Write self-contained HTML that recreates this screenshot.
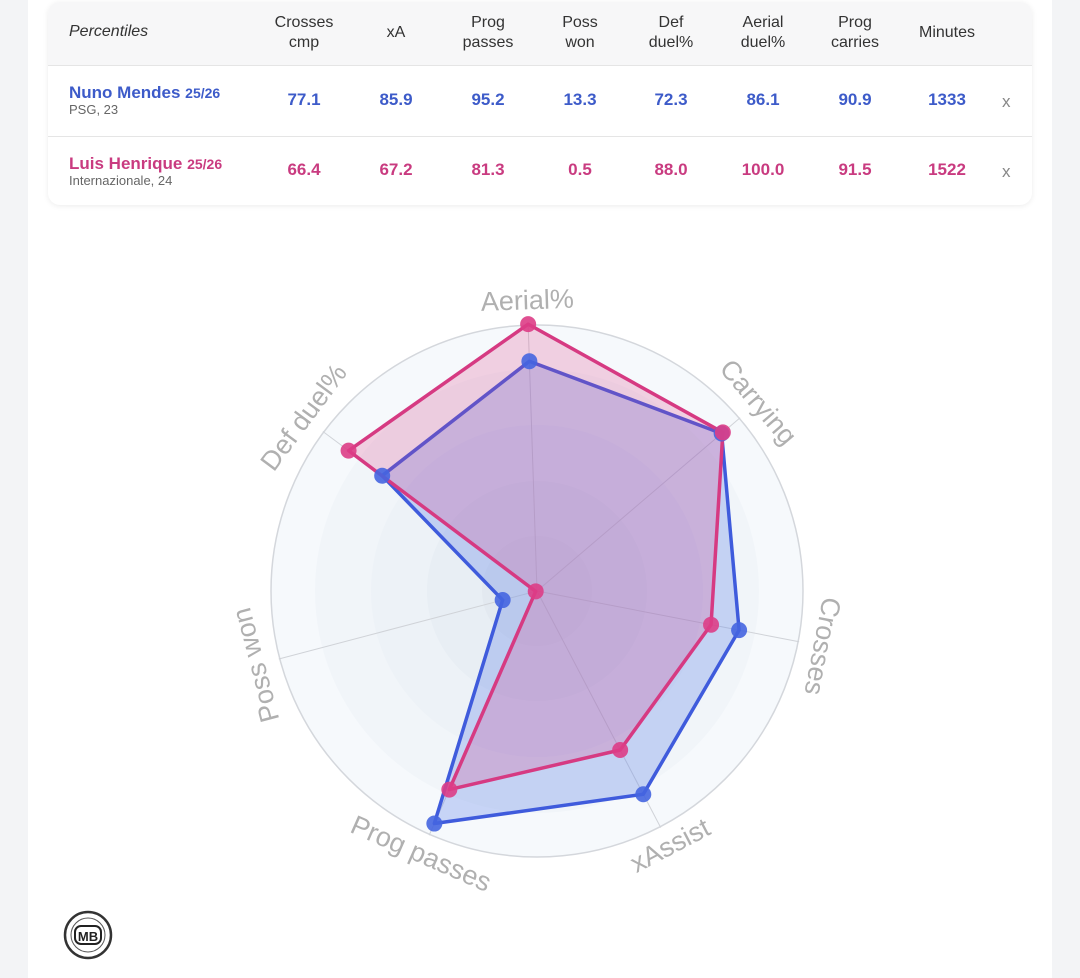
<!DOCTYPE html>
<html><head><meta charset="utf-8"><style>
body{margin:0;width:1080px;height:978px;background:#f3f4f6;font-family:"Liberation Sans",Roboto,sans-serif;position:relative;overflow:hidden}
.page{position:absolute;left:28px;top:0;width:1024px;height:978px;background:#fff}
.card{position:absolute;left:48px;top:2px;width:984px;height:203px;background:#fff;border-radius:12px;box-shadow:0 1px 6px rgba(0,0,0,.08);overflow:hidden}
.hdr{position:absolute;left:0;top:0;width:984px;height:63px;background:#f7f7f8;border-bottom:1px solid #e5e5e5}
.row{position:absolute;left:0;width:984px;height:70px}
.c{position:absolute;transform:translateX(-50%);text-align:center;font-size:16px;color:#333;line-height:20px}
.v{position:absolute;transform:translateX(-50%);font-size:17px;font-weight:bold}
.b{color:#3d5bc9}.p{color:#c93b80}
.nm{position:absolute;left:21px;font-size:17px;font-weight:bold}
.nm small{font-size:14px}
.sub{position:absolute;left:21px;font-size:13px;color:#666;font-weight:normal}
.x{position:absolute;left:954px;font-size:17px;color:#888}
</style></head><body>
<div class="page"></div>
<div class="card">
 <div class="hdr">
  <div style="position:absolute;left:21px;top:21px;font-style:italic;font-size:16px;color:#333">Percentiles</div>
  <div class="c" style="left:256px;top:11px">Crosses<br>cmp</div>
  <div class="c" style="left:348px;top:21px">xA</div>
  <div class="c" style="left:440px;top:11px">Prog<br>passes</div>
  <div class="c" style="left:532px;top:11px">Poss<br>won</div>
  <div class="c" style="left:623px;top:11px">Def<br>duel%</div>
  <div class="c" style="left:715px;top:11px">Aerial<br>duel%</div>
  <div class="c" style="left:807px;top:11px">Prog<br>carries</div>
  <div class="c" style="left:899px;top:21px">Minutes</div>
 </div>
 <div class="row" style="top:64px;border-bottom:1px solid #e5e5e5">
  <div class="nm b" style="top:17px">Nuno Mendes <small>25/26</small></div>
  <div class="sub" style="top:36px">PSG, 23</div>
  <div class="v b" style="left:256px;top:24px">77.1</div><div class="v b" style="left:348px;top:24px">85.9</div><div class="v b" style="left:440px;top:24px">95.2</div><div class="v b" style="left:532px;top:24px">13.3</div><div class="v b" style="left:623px;top:24px">72.3</div><div class="v b" style="left:715px;top:24px">86.1</div><div class="v b" style="left:807px;top:24px">90.9</div><div class="v b" style="left:899px;top:24px">1333</div>
  <div class="x" style="top:26px">x</div>
 </div>
 <div class="row" style="top:134px">
  <div class="nm p" style="top:18px">Luis Henrique <small>25/26</small></div>
  <div class="sub" style="top:37px">Internazionale, 24</div>
  <div class="v p" style="left:256px;top:24px">66.4</div><div class="v p" style="left:348px;top:24px">67.2</div><div class="v p" style="left:440px;top:24px">81.3</div><div class="v p" style="left:532px;top:24px">0.5</div><div class="v p" style="left:623px;top:24px">88.0</div><div class="v p" style="left:715px;top:24px">100.0</div><div class="v p" style="left:807px;top:24px">91.5</div><div class="v p" style="left:899px;top:24px">1522</div>
  <div class="x" style="top:26px">x</div>
 </div>
</div>
<svg id="s" width="1080" height="978" style="position:absolute;left:0;top:0"></svg>
<svg width="1080" height="978" style="position:absolute;left:0;top:0">
 <circle cx="88" cy="935" r="23" fill="#fff" stroke="#333" stroke-width="2.5"/>
 <circle cx="88" cy="935" r="17" fill="none" stroke="#555" stroke-width="1"/>
 <rect x="75" y="926" width="26" height="18" rx="6" fill="#fff" stroke="#222" stroke-width="2"/>
 <text x="88" y="941" text-anchor="middle" font-size="13" font-weight="bold" fill="#222" font-family="Liberation Sans">MB</text>
</svg>
<script>
var cx=537,cy=591,R=267,s='';
var names=['Aerial%','Carrying','Crosses','xAssist','Prog passes','Poss won','Def duel%'];
var B=[86.1,90.9,77.1,85.9,95.2,13.3,72.3],P=[100,91.5,66.4,67.2,81.3,0.5,88.0];
function ang(i){return (-1.9+i*51.43)*Math.PI/180}
function pt(i,v){var a=ang(i),r=R*v/100;return [cx+r*Math.sin(a),cy-r*Math.cos(a)]}
var rings=[[266,'#f6f9fc'],[222,'#f1f5f9'],[166,'#edf2f7'],[110,'#e8eef4'],[55,'#e3e9f0']];
rings.forEach(function(r){s+='<circle cx="'+cx+'" cy="'+cy+'" r="'+r[0]+'" fill="'+r[1]+'"/>'});
s+='<circle cx="'+cx+'" cy="'+cy+'" r="266" fill="none" stroke="#d4d7dc" stroke-width="1.5"/>';
for(var i=0;i<7;i++){var q=pt(i,100);s+='<line x1="'+cx+'" y1="'+cy+'" x2="'+q[0]+'" y2="'+q[1]+'" stroke="#d0d3d8" stroke-width="1"/>';}
function poly(d,fill,stroke){var p=d.map(function(v,i){return pt(i,v).join(',')}).join(' ');
 s+='<polygon points="'+p+'" fill="'+fill+'" stroke="'+stroke+'" stroke-width="3.5" stroke-linejoin="round"/>';}
function dots(d,c){d.forEach(function(v,i){var q=pt(i,v);s+='<circle cx="'+q[0]+'" cy="'+q[1]+'" r="8" fill="'+c+'" fill-opacity="0.9"/>'})}
poly(B,'rgba(80,120,230,0.28)','#3f5bdc');
poly(P,'rgba(220,60,130,0.22)','#d63a82');
dots(B,'#4565e0');dots(P,'#dd3d86');
for(var i=0;i<7;i++){var a=ang(i),r=289,x=cx+r*Math.sin(a),y=cy-r*Math.cos(a);var d=a*180/Math.PI;var rot=(i>=3&&i<=4)?d-180:d;
 s+='<text x="'+x+'" y="'+y+'" text-anchor="middle" dominant-baseline="middle" font-size="27" fill="#b0b0b0" font-family="Liberation Sans" transform="rotate('+rot+' '+x+' '+y+')">'+names[i]+'</text>';}
document.getElementById('s').innerHTML=s;
</script>
</body></html>
